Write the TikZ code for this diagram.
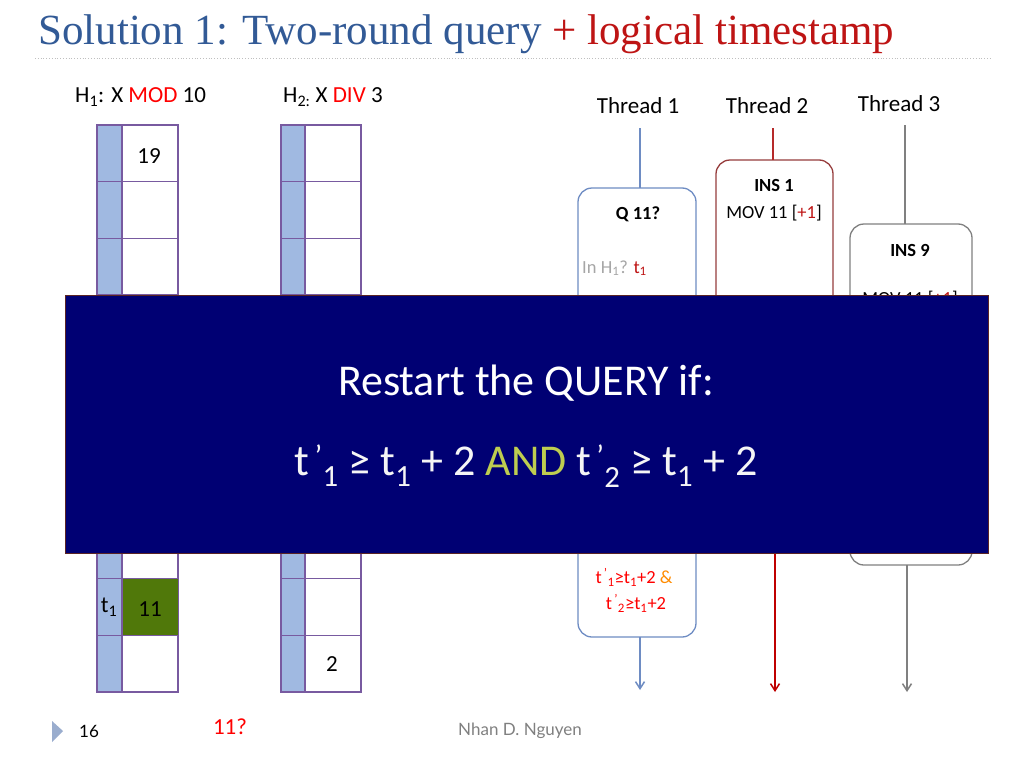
\documentclass[tikz,border=0pt]{standalone}
\usepackage{fontspec}
\setmainfont{Carlito}
\newfontfamily\titlef{Liberation Serif}
\newfontfamily\footf{Lato}
\usetikzlibrary{arrows.meta}
\definecolor{tblue}{RGB}{50,90,150}
\definecolor{tred}{RGB}{190,20,20}
\definecolor{strip}{RGB}{160,185,225}
\definecolor{cellb}{RGB}{120,90,160}
\definecolor{qblue}{RGB}{110,140,195}
\definecolor{ired}{RGB}{150,60,60}
\definecolor{navy}{RGB}{0,0,115}
\definecolor{andc}{RGB}{190,205,80}
\definecolor{grn}{RGB}{80,120,10}
\tikzset{x=1pt,y=-1pt,
 cell/.style={draw=cellb,line width=1.3pt},
 stripc/.style={draw=cellb,line width=1.3pt,fill=strip},
 tbox/.style={rounded corners=14pt,line width=1.3pt,fill=white},
 lbl/.style={font=\fontsize{23}{25}\selectfont,inner sep=0pt},
 small/.style={font=\fontsize{18.5}{20}\selectfont,inner sep=0pt},
 bsmall/.style={font=\bfseries\fontsize{18.5}{20}\selectfont,inner sep=0pt},
 arr/.style={line width=1.5pt,-{Straight Barb[length=7pt,width=9pt]}}}
\newcommand{\tp}[1]{t\textsuperscript{\,’}\textsubscript{#1}}
\begin{document}
\begin{tikzpicture}
\useasboundingbox (0,0) rectangle (1024,768);
\fill[white] (0,0) rectangle (1024,768);
\node[anchor=base west,inner sep=0pt,font=\titlef\fontsize{43}{46}\selectfont] (title) at (38,45) {\textcolor{tblue}{Solution 1: Two-round query} \textcolor{tred}{+ logical timestamp}};
\draw[gray!50,dotted,line width=0.8pt] (35,58) -- (990,58);
% hash tables
\node[lbl,anchor=west] (h1) at (75,97) {H\textsubscript{1}: X \textcolor{red}{MOD} 10};
\node[lbl,anchor=west] (h2) at (283,97) {H\textsubscript{2:} X \textcolor{red}{DIV} 3};
\foreach \i in {0,...,9}{
 \pgfmathsetmacro{\ya}{125+56.7*\i}\pgfmathsetmacro{\yb}{125+56.7*(\i+1)}
 \draw[stripc] (97,\ya) rectangle (122,\yb);
 \draw[cell] (122,\ya) rectangle (178,\yb);
 \draw[stripc] (281,\ya) rectangle (305,\yb);
 \draw[cell] (305,\ya) rectangle (361,\yb);
}
\fill[grn] (123,579) rectangle (178,635);
\node[lbl] (v19) at (149,156) {19};
\node[lbl] (v11) at (150,609) {11};
\node[lbl] (tt) at (109,607) {t\textsubscript{1}};
\node[lbl] (v2) at (332,664) {2};
% threads
\node[lbl] (th1) at (638,106) {Thread 1};
\node[lbl] (th2) at (767,106) {Thread 2};
\node[lbl] (th3) at (899,104) {Thread 3};
\coordinate (a1) at (640,128);\coordinate (a2) at (773,128);\coordinate (a3) at (905,125);
\draw[tbox,draw=qblue] (578,188) rectangle (696,637);
\draw[tbox,draw=ired] (716,160) rectangle (833,545);
\draw[tbox,draw=gray] (850,224) rectangle (972,565);
\coordinate (q1t) at (640,188);\coordinate (i1t) at (773,160);\coordinate (i9t) at (905,224);
\draw[qblue,line width=1.3pt] (a1) -- (q1t);
\draw[ired!70!red,line width=1.3pt] (a2) -- (i1t);
\draw[gray,line width=1.3pt] (a3) -- (i9t);
\coordinate (q1b) at (640,637);\coordinate (e1) at (640,690);
\coordinate (i1b) at (775,553);\coordinate (e2) at (775,692);
\coordinate (i9b) at (907,565);\coordinate (e3) at (907,692);
\draw[arr,qblue] (q1b) -- (e1);
\draw[arr,red!75!black] (i1b) -- (e2);
\draw[arr,gray] (i9b) -- (e3);
\node[bsmall] (q11) at (638,214) {Q 11?};
\node[small,anchor=west,text=gray!70] (inh) at (582,268) {In H\textsubscript{1}? \textcolor{tred}{t\textsubscript{1}}};
\node[bsmall] (ins1) at (774,185) {INS 1};
\node[small] (mov1) at (774,213) {MOV 11 [\textcolor{tred}{+1}]};
\node[bsmall] (ins9) at (910,250) {INS 9};
\node[small] (mov9) at (910,299) {MOV 11 [\textcolor{tred}{+1}]};
\node[small,text=red] (c1) at (634,577) {\tp1≥t\textsubscript{1}+2 \textcolor{orange!90!yellow}{\&}};
\node[small,text=red] (c2) at (636,603) {\tp2≥t\textsubscript{1}+2};
% banner
\draw[fill=navy,draw=ired!60!black,line width=1pt] (65,295) rectangle (988,553);
\node[inner sep=0pt,text=white,font=\fontsize{44}{46}\selectfont] (r1) at (526,383) {Restart the QUERY if:};
\node[inner sep=0pt,text=white!92!gray,font=\fontsize{44}{46}\selectfont] (r2) at (526,466) {\tp1 ≥ t\textsubscript{1} + 2 \textcolor{andc}{AND} \tp2 ≥ t\textsubscript{1} + 2};
% footer
\fill[strip!80!gray] (52,721) -- (63,731) -- (52,742) -- cycle;
\node[inner sep=0pt,font=\footf\fontsize{17}{18}\selectfont] (pg) at (89,731) {16};
\node[inner sep=0pt,text=red,font=\fontsize{23}{24}\selectfont] (q) at (230,727) {11?};
\node[inner sep=0pt,text=gray,font=\footf\fontsize{17}{18}\selectfont] (au) at (520,731) {Nhan D. Nguyen};
\end{tikzpicture}
\end{document}
